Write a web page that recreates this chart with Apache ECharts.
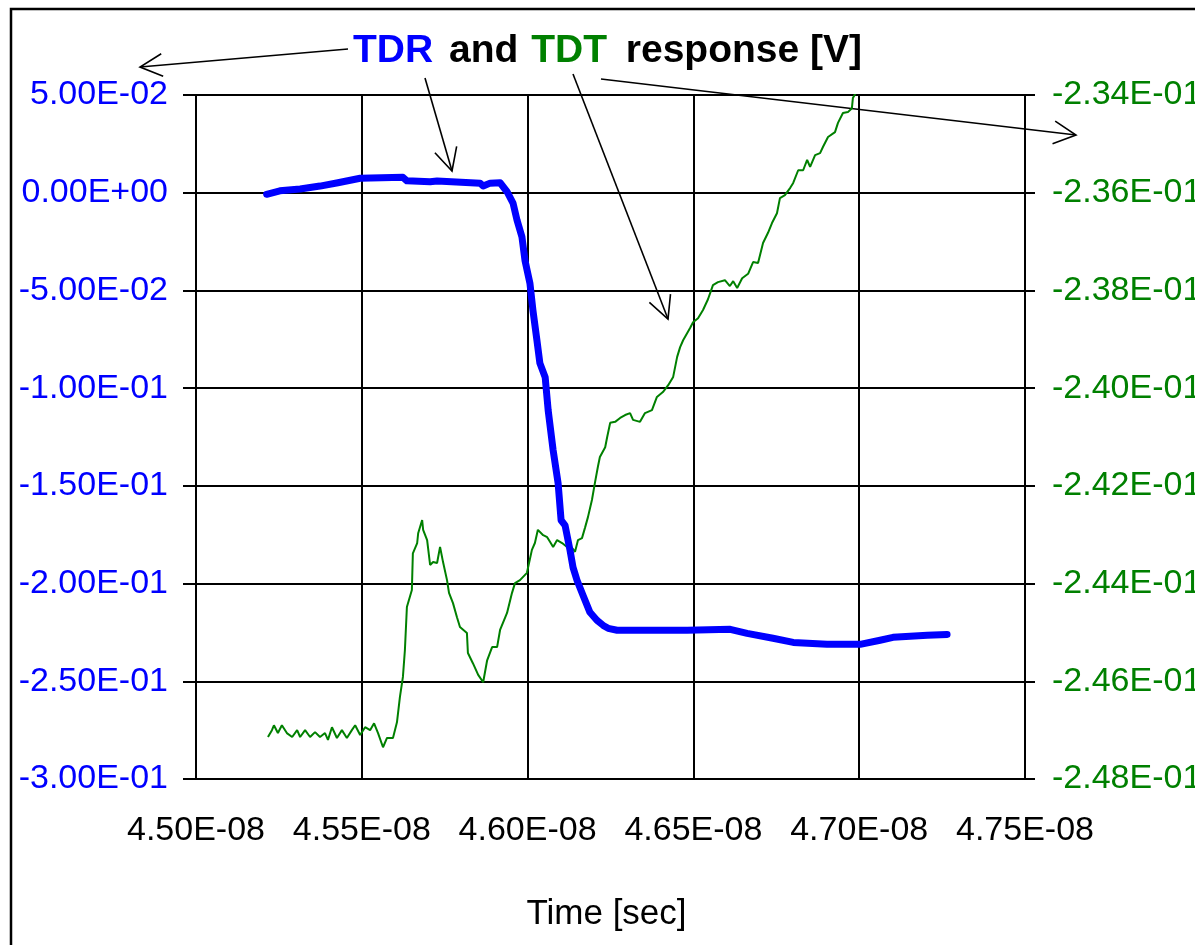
<!DOCTYPE html>
<html>
<head>
<meta charset="utf-8">
<title>TDR and TDT response</title>
<script src="https://cdn.jsdelivr.net/npm/echarts@6/dist/echarts.min.js"></script>
<style>
  html, body { margin: 0; padding: 0; background: #fff; }
  #chart { width: 1195px; height: 945px; }
</style>
</head>
<body>
<div id="chart"></div>
<script>
// time in ns (axis labels are shown in seconds)
const tdrTime = [45.213, 45.253, 45.314, 45.374, 45.428, 45.495, 45.624, 45.636, 45.706, 45.727,
  45.857, 45.866, 45.887, 45.917, 45.938, 45.956, 45.968, 45.983, 45.992, 46.007,
  46.016, 46.028, 46.037, 46.053, 46.062, 46.077, 46.092, 46.101, 46.113, 46.128,
  46.137, 46.149, 46.167, 46.188, 46.209, 46.228, 46.243, 46.270, 46.399, 46.481,
  46.611, 46.662, 46.740, 46.801, 46.903, 47.003, 47.063, 47.102, 47.205, 47.265]
const tdrVolt = [-0.0008, 0.0010, 0.0019, 0.0034, 0.0051, 0.0074, 0.0079, 0.0061, 0.0056, 0.0060,
  0.0049, 0.0034, 0.0049, 0.0051, 0.0005, -0.0053, -0.0140, -0.0227, -0.0345, -0.0463,
  -0.0601, -0.0754, -0.0872, -0.0944, -0.1113, -0.1318, -0.1487, -0.1676, -0.1702, -0.1830,
  -0.1917, -0.1983, -0.2060, -0.2147, -0.2188, -0.2214, -0.2229, -0.2239, -0.2239, -0.2239,
  -0.2234, -0.2255, -0.2280, -0.2301, -0.2311, -0.2311, -0.2290, -0.2275, -0.2265, -0.2260]

const tdtTime = [45.217, 45.229, 45.235, 45.247, 45.259, 45.274, 45.290, 45.305, 45.314, 45.329,
  45.344, 45.359, 45.374, 45.389, 45.398, 45.410, 45.425, 45.440, 45.455, 45.470,
  45.480, 45.495, 45.510, 45.525, 45.537, 45.549, 45.564, 45.576, 45.594, 45.606,
  45.615, 45.624, 45.630, 45.636, 45.651, 45.654, 45.667, 45.670, 45.682, 45.685,
  45.697, 45.706, 45.715, 45.727, 45.736, 45.745, 45.757, 45.763, 45.775, 45.787,
  45.796, 45.817, 45.820, 45.835, 45.851, 45.866, 45.878, 45.893, 45.908, 45.917,
  45.938, 45.953, 45.962, 45.977, 45.998, 46.013, 46.022, 46.031, 46.047, 46.059,
  46.068, 46.077, 46.089, 46.104, 46.119, 46.134, 46.143, 46.152, 46.164, 46.173,
  46.182, 46.194, 46.203, 46.212, 46.218, 46.234, 46.240, 46.249, 46.264, 46.279,
  46.294, 46.309, 46.318, 46.339, 46.354, 46.375, 46.390, 46.408, 46.424, 46.439,
  46.451, 46.460, 46.469, 46.490, 46.499, 46.514, 46.529, 46.544, 46.559, 46.574,
  46.595, 46.610, 46.620, 46.632, 46.647, 46.665, 46.680, 46.695, 46.710, 46.725,
  46.737, 46.752, 46.761, 46.776, 46.792, 46.801, 46.816, 46.831, 46.843, 46.852,
  46.867, 46.882, 46.891, 46.906, 46.927, 46.936, 46.951, 46.966, 46.978, 46.981,
  46.991]
const tdtVolt = [-0.24714, -0.24700, -0.24690, -0.24706, -0.24690, -0.24706, -0.24714, -0.24700, -0.24714, -0.24700,
  -0.24714, -0.24704, -0.24714, -0.24706, -0.24720, -0.24694, -0.24716, -0.24700, -0.24716, -0.24700,
  -0.24690, -0.24710, -0.24694, -0.24700, -0.24686, -0.24706, -0.24735, -0.24716, -0.24716, -0.24684,
  -0.24632, -0.24591, -0.24536, -0.24448, -0.24413, -0.24338, -0.24317, -0.24297, -0.24270, -0.24290,
  -0.24311, -0.24362, -0.24356, -0.24358, -0.24325, -0.24356, -0.24393, -0.24419, -0.24440, -0.24469,
  -0.24489, -0.24501, -0.24542, -0.24563, -0.24587, -0.24602, -0.24557, -0.24530, -0.24530, -0.24495,
  -0.24460, -0.24419, -0.24399, -0.24393, -0.24378, -0.24331, -0.24317, -0.24290, -0.24301, -0.24305,
  -0.24315, -0.24325, -0.24311, -0.24317, -0.24325, -0.24327, -0.24335, -0.24311, -0.24307, -0.24286,
  -0.24264, -0.24229, -0.24194, -0.24161, -0.24141, -0.24121, -0.24100, -0.24071, -0.24069, -0.24061,
  -0.24055, -0.24051, -0.24065, -0.24069, -0.24051, -0.24045, -0.24018, -0.24008, -0.23994, -0.23977,
  -0.23936, -0.23916, -0.23902, -0.23877, -0.23865, -0.23857, -0.23840, -0.23818, -0.23789, -0.23783,
  -0.23779, -0.23791, -0.23781, -0.23795, -0.23775, -0.23766, -0.23742, -0.23744, -0.23703, -0.23682,
  -0.23662, -0.23642, -0.23611, -0.23605, -0.23590, -0.23580, -0.23554, -0.23554, -0.23533, -0.23547,
  -0.23523, -0.23519, -0.23506, -0.23486, -0.23476, -0.23457, -0.23437, -0.23435, -0.23427, -0.23406,
  -0.23394]

const FONT = 'Liberation Sans, Arial, sans-serif'
const BLUE = '#0000FF'
const GREEN = '#008000'

// "4.50e-8" -> "4.50E-08"
function sci(v) {
  const m = Number(v).toExponential(2).match(/^(-?[\d.]+)e([+-])(\d+)$/)
  return m[1] + 'E' + m[2] + m[3].padStart(2, '0')
}

// annotation arrows from the title words: [x1, y1, x2(tip), y2(tip)]
const arrows = [[348, 49, 140, 67], [425, 78, 452, 171], [573, 74, 668, 319], [601, 79, 1076, 135]]

function arrowGraphics() {
  const els = []
  arrows.forEach(([x1, y1, x2, y2]) => {
    const a = Math.atan2(y1 - y2, x1 - x2)
    const L = 25
    const s = 0.47
    els.push({
      type: 'line', silent: true,
      shape: { x1, y1, x2, y2 },
      style: { stroke: '#000', lineWidth: 1.6 }
    })
    els.push({
      type: 'polyline', silent: true,
      shape: { points: [[x2 + L * Math.cos(a + s), y2 + L * Math.sin(a + s)], [x2, y2], [x2 + L * Math.cos(a - s), y2 + L * Math.sin(a - s)]] },
      style: { stroke: '#000', lineWidth: 1.6, fill: null }
    })
  })
  return els
}

const chart = echarts.init(document.getElementById('chart'))

chart.setOption({
  animation: false,
  backgroundColor: '#fff',
  title: {
    left: 353,
    top: 32,
    padding: 0,
    text: '{b|TDR} {k1|and} {g|TDT} {k2|response [V]}',
    textStyle: {
      fontFamily: FONT,
      fontSize: 39,
      fontWeight: 'bold',
      color: '#000',
      rich: {
        b: { color: BLUE, fontSize: 39, fontWeight: 'bold', fontFamily: FONT },
        k1: { color: '#000', fontSize: 39, fontWeight: 'bold', fontFamily: FONT, padding: [0, 0, 0, 5] },
        g: { color: GREEN, fontSize: 39, fontWeight: 'bold', fontFamily: FONT, padding: [0, 0, 0, 2] },
        k2: { color: '#000', fontSize: 39, fontWeight: 'bold', fontFamily: FONT, padding: [0, 0, 0, 8] }
      }
    }
  },
  grid: {
    left: 196,
    top: 95,
    width: 829,
    height: 684,
    containLabel: false,
    outerBoundsMode: 'none'
  },
  xAxis: {
    type: 'value',
    min: 45,
    max: 47.5,
    interval: 0.5,
    name: 'Time [sec]',
    nameLocation: 'middle',
    nameGap: 118,
    nameTextStyle: { fontFamily: FONT, fontSize: 35, color: '#000', padding: [0, 8, 0, 0] },
    axisLine: { show: true, onZero: false, lineStyle: { color: '#000', width: 2 } },
    axisTick: { show: false },
    axisLabel: {
      fontFamily: FONT, fontSize: 34, color: '#000', margin: 35,
      showMinLabel: true, showMaxLabel: true,
      formatter: v => sci(v * 1e-9)
    },
    splitLine: { show: true, lineStyle: { color: '#000', width: 2 } }
  },
  yAxis: [{
    type: 'value',
    position: 'left',
    min: -0.3,
    max: 0.05,
    interval: 0.05,
    axisLine: { show: true, onZero: false, lineStyle: { color: '#000', width: 2 } },
    axisTick: { show: true, inside: false, length: 13, lineStyle: { color: '#000', width: 2 } },
    axisLabel: {
      fontFamily: FONT, fontSize: 34, color: BLUE, margin: 28,
      showMinLabel: true, showMaxLabel: true,
      formatter: v => sci(v)
    },
    splitLine: { show: true, lineStyle: { color: '#000', width: 2 } }
  }, {
    type: 'value',
    position: 'right',
    min: -0.248,
    max: -0.234,
    interval: 0.002,
    axisLine: { show: true, onZero: false, lineStyle: { color: '#000', width: 2 } },
    axisTick: { show: true, inside: false, length: 10, lineStyle: { color: '#000', width: 2 } },
    axisLabel: {
      fontFamily: FONT, fontSize: 34, color: GREEN, margin: 27,
      showMinLabel: true, showMaxLabel: true,
      formatter: v => sci(v)
    },
    splitLine: { show: false }
  }],
  series: [{
    name: 'TDT',
    type: 'line',
    yAxisIndex: 1,
    data: tdtTime.map((t, i) => [t, tdtVolt[i]]),
    showSymbol: false,
    clip: true,
    lineStyle: { color: GREEN, width: 2 },
    z: 3
  }, {
    name: 'TDR',
    type: 'line',
    yAxisIndex: 0,
    data: tdrTime.map((t, i) => [t, tdrVolt[i]]),
    showSymbol: false,
    clip: true,
    lineStyle: { color: BLUE, width: 7, cap: 'round', join: 'round' },
    z: 4
  }],
  graphic: [{
    type: 'rect', silent: true, z: -1,
    shape: { x: 11, y: 9, width: 1400, height: 1200 },
    style: { fill: null, stroke: '#000', lineWidth: 2.5 }
  }].concat(arrowGraphics())
})
</script>
</body>
</html>
